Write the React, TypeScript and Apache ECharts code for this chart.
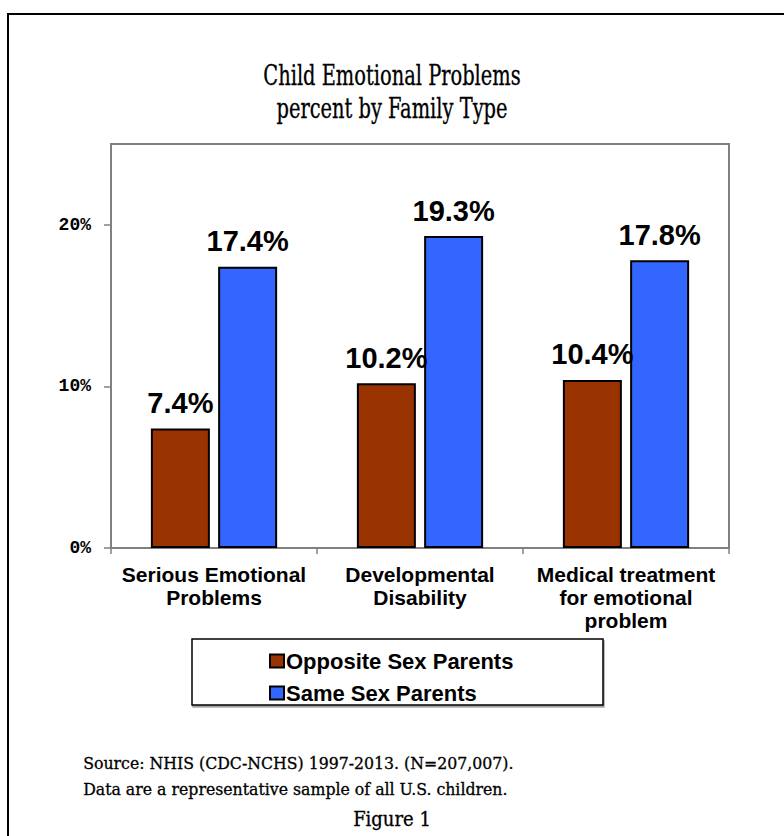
import React, { useEffect, useRef } from "react";
import * as echarts from "echarts";

const categories = [
  "Serious Emotional\nProblems",
  "Developmental\nDisability",
  "Medical treatment\nfor emotional\nproblem",
];
const oppositeSex = [7.4, 10.2, 10.4];
const sameSex = [17.4, 19.3, 17.8];
const seriesNames = ["Opposite Sex Parents", "Same Sex Parents"];
const titleLines = ["Child Emotional Problems", "percent by Family Type"];
const sourceLines = [
  "Source: NHIS (CDC-NCHS) 1997-2013. (N=207,007).",
  "Data are a representative sample of all U.S. children.",
];
const figureLabel = "Figure 1";

const SERIF = "'DejaVu Serif Condensed', 'Liberation Serif', serif";
const SANS = "'Liberation Sans', Arial, sans-serif";

export default function App() {
  const ref = useRef<HTMLDivElement>(null);
  useEffect(() => {
    if (!ref.current) return;
    const chart = echarts.init(ref.current, null, { renderer: "svg" });
    const labelStyle = {
      show: true,
      position: "top",
      distance: 11,
      formatter: (p: any) => p.value.toFixed(1) + "%",
      fontFamily: SANS,
      fontWeight: "bold",
      fontSize: 29,
      color: "#000",
    };
    chart.setOption({
      animation: false,
      backgroundColor: "#fff",
      grid: {
        left: 111,
        right: 55,
        top: 144,
        bottom: 288,
        show: true,
        borderColor: "#808080",
        borderWidth: 2,
        backgroundColor: "#fff",
      },
      legend: {
        orient: "vertical",
        left: 264,
        top: 645,
        itemWidth: 14,
        itemHeight: 13,
        itemGap: 10,
        icon: "rect",
        data: seriesNames,
        textStyle: {
          fontFamily: SANS,
          fontWeight: "bold",
          fontSize: 22,
          color: "#000",
          padding: [0, 0, 0, -3],
        },
        itemStyle: { borderColor: "#000", borderWidth: 2 },
      },
      xAxis: {
        type: "category",
        data: categories,
        axisLine: { lineStyle: { color: "#808080", width: 2 } },
        axisTick: { show: true, length: 6, lineStyle: { color: "#808080", width: 1.5 } },
        axisLabel: {
          margin: 15,
          interval: 0,
          fontFamily: SANS,
          fontWeight: "bold",
          fontSize: 21,
          lineHeight: 23,
          color: "#000",
        },
      },
      yAxis: {
        type: "value",
        min: 0,
        max: 25,
        interval: 10,
        splitLine: { show: false },
        axisLine: { show: true, lineStyle: { color: "#808080", width: 2 } },
        axisTick: { show: true, length: 7, lineStyle: { color: "#808080", width: 1.5 } },
        axisLabel: {
          showMaxLabel: false,
          margin: 20,
          formatter: (v: number) => v + "%",
          fontFamily: "'Liberation Mono', 'Courier New', monospace",
          fontWeight: "bold",
          fontSize: 18,
          color: "#000",
        },
      },
      series: [
        {
          name: seriesNames[0],
          type: "bar",
          data: oppositeSex,
          barWidth: 59,
          barGap: "14%",
          itemStyle: { color: "#993300", borderColor: "#000", borderWidth: 2 },
          label: labelStyle,
        },
        {
          name: seriesNames[1],
          type: "bar",
          data: sameSex,
          barWidth: 59,
          barGap: "14%",
          itemStyle: { color: "#3366FF", borderColor: "#000", borderWidth: 2 },
          label: labelStyle,
        },
      ],
      graphic: [
        {
          type: "rect",
          z: -10,
          shape: { x: 8, y: 14, width: 820, height: 900 },
          style: { fill: "none", stroke: "#000", lineWidth: 2 },
        },
        {
          type: "text",
          x: 392,
          y: 59,
          scaleX: 0.8,
          style: {
            text: titleLines.join("\n"),
            textAlign: "center",
            fontFamily: SERIF,
            fontSize: 27,
            lineHeight: 33,
            fill: "#000",
            stroke: "#000",
            lineWidth: 0.3,
          },
        },
        {
          type: "rect",
          z: -5,
          shape: { x: 192, y: 639, width: 411, height: 66 },
          style: { fill: "#fff", stroke: "#000", lineWidth: 1.5, shadowColor: "rgba(0,0,0,0.35)", shadowOffsetX: 1, shadowOffsetY: 2, shadowBlur: 1 },
        },
        {
          type: "text",
          left: 83,
          top: 750,
          style: {
            text: sourceLines.join("\n"),
            fontFamily: SERIF,
            fontSize: 17.5,
            lineHeight: 26,
            fill: "#000",
            stroke: "#000",
            lineWidth: 0.3,
          },
        },
        {
          type: "text",
          left: "center",
          top: 809,
          style: {
            text: figureLabel,
            fontFamily: SERIF,
            fontSize: 20,
            fill: "#000",
            stroke: "#000",
            lineWidth: 0.3,
          },
        },
      ],
    });
    return () => chart.dispose();
  }, []);
  return (
    <div
      ref={ref}
      style={{ position: "fixed", left: 0, top: 0, width: 784, height: 836 }}
    />
  );
}
